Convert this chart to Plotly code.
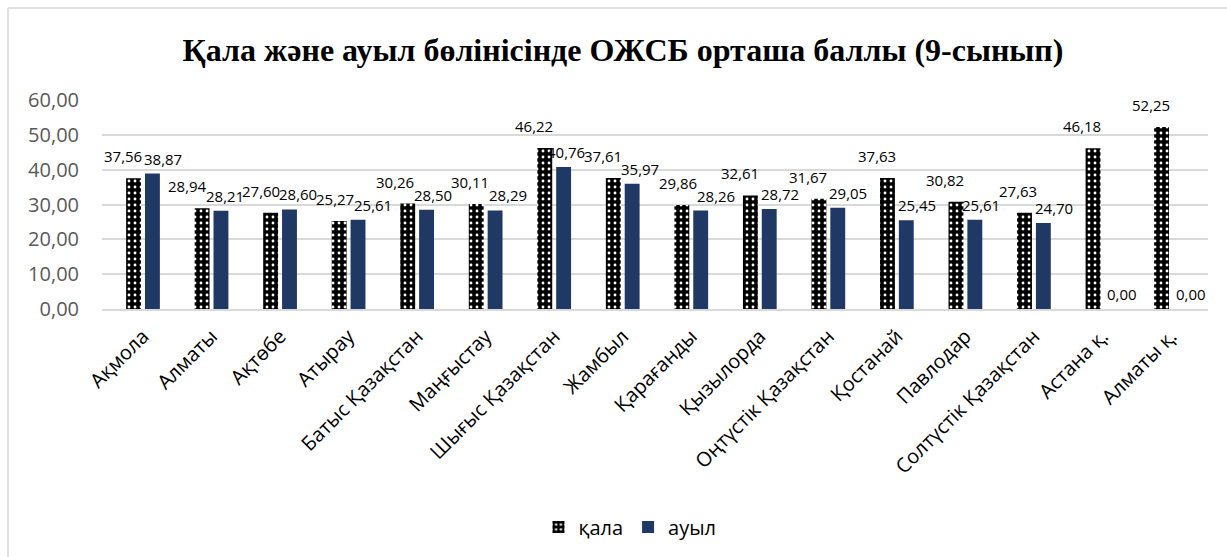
import plotly.graph_objects as go

categories = ["Ақмола", "Алматы", "Ақтөбе", "Атырау", "Батыс Қазақстан", "Маңғыстау",
              "Шығыс Қазақстан", "Жамбыл", "Қарағанды", "Қызылорда", "Оңтүстік Қазақстан",
              "Қостанай", "Павлодар", "Солтүстік Қазақстан", "Астана қ.", "Алматы қ."]
qala = [37.56, 28.94, 27.60, 25.27, 30.26, 30.11, 46.22, 37.61, 29.86, 32.61, 31.67,
        37.63, 30.82, 27.63, 46.18, 52.25]
auyl = [38.87, 28.21, 28.60, 25.61, 28.50, 28.29, 40.76, 35.97, 28.26, 28.72, 29.05,
        25.45, 25.61, 24.70, 0.00, 0.00]
y_ticks = [0, 10, 20, 30, 40, 50, 60]
title_text = "Қала және ауыл бөлінісінде ОЖСБ орташа баллы (9-сынып)"

W, H = 1227, 557
L, R, T, B = 102, 19, 100, 248
SANS = "Open Sans"
YMAX = 60

fig = go.Figure()
fig.add_trace(go.Bar(
    name="қала", x=categories, y=qala,
    marker=dict(color="black", line=dict(width=0),
                pattern=dict(shape=".", fgcolor="white", bgcolor="black",
                             size=6, solidity=0.18, fillmode="replace")),
))
fig.add_trace(go.Bar(
    name="ауыл", x=categories, y=auyl,
    marker=dict(color="#203864", line=dict(width=0)),
))

def fmt(v):
    return f"{v:.2f}".replace(".", ",")

pw = W - L - R
ph = H - T - B
cw = pw / len(categories)
ppu = ph / YMAX

# data labels: start beside each bar, then nudge apart horizontally where they collide
LW, LH = 38, 17
labels = []
for i, (c, v) in enumerate(zip(categories, qala)):
    labels.append(dict(cat=c, v=v, base=(i + 0.5) * cw, xc=(i + 0.5) * cw - 20, yb=v * ppu + 10, ys=10))
for i, (c, v) in enumerate(zip(categories, auyl)):
    labels.append(dict(cat=c, v=v, base=(i + 0.5) * cw, xc=(i + 0.5) * cw + 20, yb=v * ppu + 3, ys=3))
for _ in range(6):
    labels.sort(key=lambda d: d["xc"])
    for a in range(len(labels)):
        for b in range(a + 1, len(labels)):
            p, q = labels[a], labels[b]
            if abs(p["yb"] - q["yb"]) < LH and q["xc"] - p["xc"] < LW:
                d = LW - (q["xc"] - p["xc"])
                p["xc"] -= d / 2
                q["xc"] += d / 2

for d in labels:
    fig.add_annotation(x=d["cat"], y=d["v"], text=fmt(d["v"]), showarrow=False,
                       xref="x", yref="y", xanchor="center", yanchor="bottom",
                       xshift=d["xc"] - d["base"], yshift=d["ys"],
                       font=dict(family=SANS, size=15, color="black"))

x0 = (8 - L) / pw
y1 = (H - B - 8) / ph
fig.add_shape(type="line", xref="paper", yref="paper", x0=x0, x1=x0, y0=-2, y1=y1,
              line=dict(color="#d9d9d9", width=1.5))
fig.add_shape(type="line", xref="paper", yref="paper", x0=x0, x1=1.1, y0=y1, y1=y1,
              line=dict(color="#d9d9d9", width=1.5))

fig.update_layout(
    width=W, height=H,
    margin=dict(l=L, r=R, t=T, b=B, autoexpand=False),
    paper_bgcolor="white", plot_bgcolor="white",
    separators=", ",
    barmode="group", bargap=0.45, bargroupgap=0.21,
    title=dict(text=f"<b>{title_text}</b>", x=623 / W, xref="container", xanchor="center",
               y=1 - 50 / H, yanchor="middle",
               font=dict(family="Liberation Serif", size=32, color="black")),
    font=dict(family=SANS, color="black"),
    showlegend=True,
    legend=dict(orientation="h", x=(630 - L) / pw, xanchor="center",
                y=(H - B - 527) / ph, yanchor="middle",
                font=dict(family=SANS, size=20, color="black"), itemwidth=30),
    xaxis=dict(tickangle=-45, tickfont=dict(family=SANS, size=20, color="black"),
               showgrid=False, showline=True, linecolor="#d9d9d9", linewidth=1.5,
               ticks="", ticklabelstandoff=6, automargin=False),
    yaxis=dict(range=[0, YMAX], tickvals=y_ticks, tickformat=".2f",
               tickfont=dict(family=SANS, size=20, color="#595959"),
               showgrid=True, gridcolor="#d9d9d9", gridwidth=1.5,
               zeroline=False, showline=False, ticks="", ticklabelstandoff=22,
               automargin=False),
)

fig.write_html("out.html", post_script="document.body.style.margin='0';",
               config={"displayModeBar": False})
